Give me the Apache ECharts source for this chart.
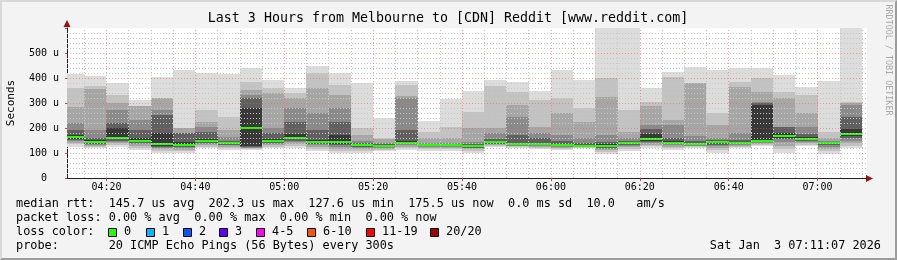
<!DOCTYPE html>
<html><head><meta charset="utf-8">
<script src="https://cdn.jsdelivr.net/npm/echarts@6/dist/echarts.min.js"></script>
<style>
html,body{margin:0;padding:0;background:#f3f3f3;}
#wrap{position:relative;width:897px;height:260px;}
#c{width:897px;height:260px;}
#frame{position:absolute;left:0;top:0;width:897px;height:260px;box-sizing:border-box;border-style:solid;border-width:2px;border-color:#d8d8d8 #9c9c9c #9c9c9c #d8d8d8;pointer-events:none;}
</style></head><body>
<div id="wrap"><div id="c"></div><div id="frame"></div></div>
<script>
// ---- data (5-minute bins, end time of each bin) ----
const binEnds = ['04:15','04:20','04:25','04:30','04:35','04:40','04:45','04:50','04:55','05:00','05:05','05:10',
  '05:15','05:20','05:25','05:30','05:35','05:40','05:45','05:50','05:55','06:00','06:05','06:10',
  '06:15','06:20','06:25','06:30','06:35','06:40','06:45','06:50','06:55','07:00','07:05','07:10'];
// smoke edges in microseconds (outer -> inner)
const pingMin = [126,120,126,113,100,100,120,113,113,120,120,107,100,102,110,113,110,110,102,124,120,116,113,120,96,110,122,113,120,102,120,129,102,129,97,120];
const lo2 = [136,126,134,122,110,110,126,120,117,126,128,116,110,110,114,120,115,115,110,128,124,121,118,122,106,117,128,120,124,112,125,133,116,134,108,130];
const lo3 = [142,130,140,130,116,114,132,126,120,131,136,124,118,116,118,126,120,120,115,132,127,125,122,124,113,124,134,126,127,120,129,137,130,139,117,140];
const lo4 = [148,134,146,136,122,119,137,131,122,136,144,131,126,122,121,131,124,124,119,135,130,129,125,125,118,130,140,131,130,127,133,140,145,144,126,150];
const lo5 = [152,137,150,140,126,123,141,134,124,140,150,136,132,126,124,135,127,127,122,138,132,132,128,126,122,134,146,135,132,133,136,143,155,148,132,160];
const lo6 = [157,140,155,144,130,127,145,137,127,143,155,140,138,130,126,138,130,130,125,140,134,134,130,127,126,138,150,138,134,139,139,146,162,152,137,168];
const medianRtt = [165,146,162,150,137,133,150,142,202,148,162,146,145,134,129,142,134,134,128,144,136,137,133,129,129,142,156,142,137,145,142,150,169,156,142,176];
const hi6 = [172,152,200,160,180,146,155,146,280,158,175,153,173,137,132,150,136,136,133,148,142,142,138,133,135,146,175,150,142,148,146,293,180,165,144,195];
const hi5 = [193,160,220,193,253,182,186,150,320,180,226,193,226,140,135,193,138,138,138,155,173,160,150,140,145,150,195,160,150,152,152,300,206,175,146,246];
const hi4 = [220,193,273,233,273,182,206,166,333,200,280,260,280,150,140,320,142,142,146,180,246,180,173,160,173,160,213,213,170,160,180,306,206,206,150,293];
const hi3 = [286,356,300,289,320,200,226,193,353,340,320,360,333,173,155,330,160,160,200,200,293,206,260,226,326,186,290,233,380,213,366,346,320,260,160,300];
const hi2 = [360,369,333,289,320,200,273,246,386,360,340,420,373,200,160,373,186,206,266,369,346,313,320,280,400,273,306,406,380,260,386,400,346,333,186,306];
const pingMax = [417,409,380,313,404,433,422,417,440,393,360,449,422,382,240,389,230,317,349,393,385,349,433,393,620,620,360,426,446,433,440,440,413,364,389,620];

const xTickLabels = ['04:20','04:40','05:00','05:20','05:40','06:00','06:20','06:40','07:00'];
const yTickValues = [0,100,200,300,400,500];
const lossLabels = ['0','1','2','3','4-5','6-10','11-19','20/20'];
const lossColors = ['#26ff00','#00b8ff','#0059ff','#5e00ff','#ff00ff','#ff5500','#ff0000','#a10000'];

// ---- build ----
const toMin = s => { const p = s.split(':').map(Number); return p[0]*60 + p[1]; };
const STEP = 5;
const X_MIN = toMin('04:11') + 7/60, X_MAX = toMin('07:11') + 7/60;
const SMOKE = ['#dcdcdc','#c2c2c2','#a6a6a6','#8a8a8a','#606060','#383838'];
const MONO = '"DejaVu Sans Mono", "Liberation Mono", monospace';

const seriesData = binEnds.map((t, i) => {
  const e = toMin(t);
  return [e - STEP, e, pingMin[i], lo2[i], lo3[i], lo4[i], lo5[i], lo6[i], medianRtt[i],
          hi6[i], hi5[i], hi4[i], hi3[i], hi2[i], pingMax[i]];
});

function renderItem(params, api) {
  const cs = params.coordSys;
  const box = {x: cs.x, y: cs.y, width: cs.width, height: cs.height};
  const x0 = Math.round(api.coord([api.value(0), 0])[0]);
  const x1 = Math.round(api.coord([api.value(1), 0])[0]);
  const children = [];
  for (let k = 1; k <= 6; k++) {
    const yTop = Math.round(api.coord([api.value(0), api.value(15 - k)])[1]);
    const yBot = Math.round(api.coord([api.value(0), api.value(1 + k)])[1]);
    const r = echarts.graphic.clipRectByRect({x: x0, y: yTop, width: x1 - x0, height: yBot - yTop}, box);
    if (r) children.push({type: 'rect', shape: r, style: {fill: SMOKE[k - 1]}});
  }
  const ym = Math.round(api.coord([api.value(0), api.value(8)])[1]);
  const g = echarts.graphic.clipRectByRect({x: x0, y: ym - 1, width: x1 - x0, height: 2}, box);
  if (g) children.push({type: 'rect', shape: g, style: {fill: lossColors[0]}});
  return {type: 'group', children};
}

// grid lines (drawn over the smoke like rrdtool)
const gridLines = [];
const minorStyle = {color: '#c8c8c8', width: 1, type: [1, 2]};
const majorStyle = {color: 'rgba(235,100,100,0.55)', width: 1, type: [1, 2]};
const majorX = xTickLabels.map(toMin);
binEnds.map(toMin).forEach(v => { if (majorX.indexOf(v) < 0) gridLines.push({xAxis: v, lineStyle: minorStyle}); });
for (let v = 20; v < 600; v += 20) { if (v % 100) gridLines.push({yAxis: v, lineStyle: minorStyle}); }
majorX.forEach(v => gridLines.push({xAxis: v, lineStyle: majorStyle}));
yTickValues.filter(v => v > 0).forEach(v => gridLines.push({yAxis: v, lineStyle: majorStyle}));

const txt = (text, x, y, extra) => ({type: 'text', x, y, silent: true,
  style: Object.assign({text, font: '11.85px ' + MONO, fill: '#000', verticalAlign: 'middle'}, extra || {})});

const graphics = [
  txt('Last 3 Hours from Melbourne to [CDN] Reddit [www.reddit.com]', 448, 19, {font: '13.3px ' + MONO, align: 'center'}),
  {type: 'text', x: 11, y: 103, rotation: Math.PI / 2, silent: true,
    style: {text: 'Seconds', font: '11px ' + MONO, fill: '#000', align: 'center', verticalAlign: 'middle'}},
  {type: 'text', x: 888, y: 60, rotation: -Math.PI / 2, silent: true,
    style: {text: 'RRDTOOL / TOBI OETIKER', font: '8.4px ' + MONO, fill: '#a8a8a8', align: 'center', verticalAlign: 'middle'}},
  txt('median rtt:  ' + '145.7 us avg  202.3 us max  127.6 us min  175.5 us now  0.0 ms sd  10.0   am/s', 16, 204),
  txt('packet loss: 0.00 % avg  0.00 % max  0.00 % min  0.00 % now', 16, 218),
  txt('loss color:', 16, 232),
  txt('probe:       20 ICMP Echo Pings (56 Bytes) every 300s', 16, 246),
  txt('Sat Jan  3 07:11:07 2026', 881, 246, {align: 'right'}),
  {type: 'polygon', silent: true, shape: {points: [[866, 175], [873, 178.5], [866, 182]]}, style: {fill: '#a01010'}},
  {type: 'polygon', silent: true, shape: {points: [[63.5, 27], [67, 20], [70.5, 27]]}, style: {fill: '#a01010'}}
];
const boxX = [108, 146, 183, 219, 256, 307, 366, 430];
lossLabels.forEach((l, i) => {
  graphics.push({type: 'rect', silent: true, shape: {x: boxX[i] + 0.5, y: 228.5, width: 8, height: 8},
    style: {fill: lossColors[i], stroke: '#000', lineWidth: 1}});
  graphics.push(txt(l, boxX[i] + 16, 232));
});

const chart = echarts.init(document.getElementById('c'), null, {renderer: 'canvas'});
chart.setOption({
  animation: false,
  backgroundColor: '#f3f3f3',
  grid: {left: 67, right: 30, top: 28, bottom: 82, show: true, backgroundColor: '#ffffff', borderWidth: 0},
  xAxis: {
    type: 'value', min: X_MIN, max: X_MAX,
    axisLine: {lineStyle: {color: '#222', width: 1}},
    axisTick: {show: true, length: 3, lineStyle: {color: '#d04040'}, customValues: majorX},
    axisLabel: {customValues: majorX, color: '#000', fontFamily: MONO, fontSize: 10, margin: 4,
      formatter: v => xTickLabels[majorX.indexOf(v)] || ''},
    splitLine: {show: false}
  },
  yAxis: {
    type: 'value', min: 0, max: 600, interval: 100,
    axisLine: {show: true, lineStyle: {color: '#222', width: 1}},
    axisTick: {show: true, length: 2, lineStyle: {color: '#d04040'}},
    axisLabel: {color: '#000', fontFamily: MONO, fontSize: 10, margin: 8,
      formatter: v => v === 0 ? '0\u00a0\u00a0' : (v >= 600 ? '' : v + ' u')},
    splitLine: {show: false}
  },
  series: [
    {type: 'custom', renderItem, data: seriesData, encode: {x: [0, 1], y: [2, 14]}, z: 2, silent: true},
    {type: 'line', data: [], z: 5, silent: true,
      markLine: {silent: true, symbol: ['none', 'none'], label: {show: false}, animation: false, data: gridLines}}
  ],
  graphic: graphics
});
</script>
</body></html>
